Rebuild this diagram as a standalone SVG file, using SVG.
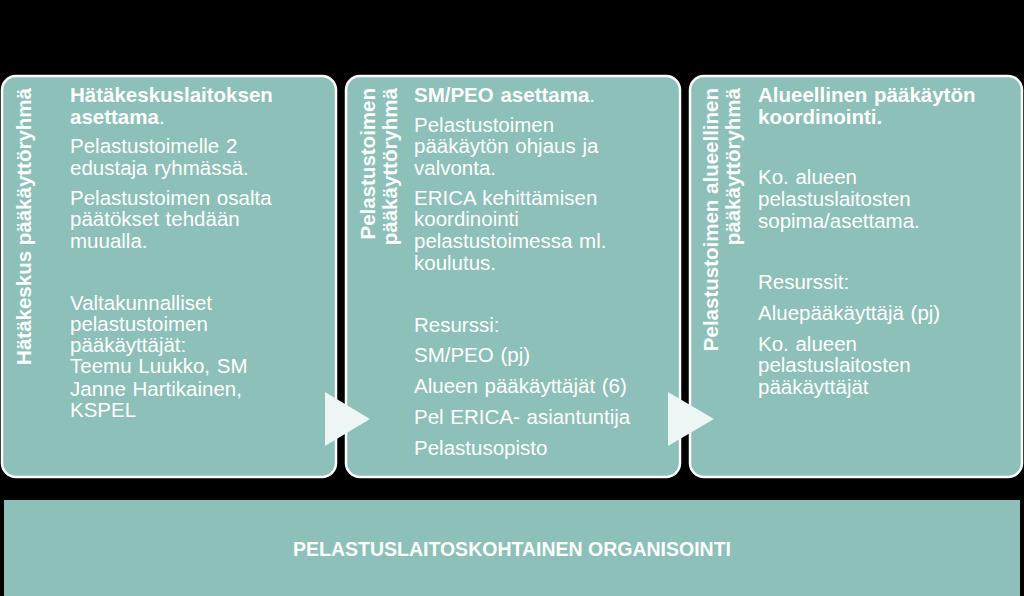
<svg xmlns="http://www.w3.org/2000/svg" width="1024" height="596" viewBox="0 0 1024 596">
<style>
.p{fill:#8dc0b8;stroke:#fff;stroke-width:2.5}
text{font-family:"Liberation Sans",Arial,sans-serif;fill:#fff}
.b{font-size:20.5px;word-spacing:1px}
.h{font-weight:bold}
.t{font-size:20.5px;font-weight:bold;text-anchor:end}
.ar{fill:#eef6f5}
</style>
<rect width="1024" height="596" fill="#000"/>
<g id="panel1">
<rect class="p" x="2" y="76" width="334" height="401" rx="14"/>
<text class="t" transform="translate(31,88) rotate(-90)">Hätäkeskus pääkäyttöryhmä</text>
<text class="b" x="70"><tspan class="h" y="102">Hätäkeskuslaitoksen</tspan><tspan class="h" x="70" y="124">asettama</tspan><tspan>.</tspan>
<tspan x="70" y="153">Pelastustoimelle 2</tspan><tspan x="70" y="175">edustaja ryhmässä.</tspan>
<tspan x="70" y="205">Pelastustoimen osalta</tspan><tspan x="70" y="226">päätökset tehdään</tspan><tspan x="70" y="248">muualla.</tspan>
<tspan x="70" y="310">Valtakunnalliset</tspan><tspan x="70" y="331">pelastustoimen</tspan><tspan x="70" y="352">pääkäyttäjät:</tspan><tspan x="70" y="373">Teemu Luukko, SM</tspan><tspan x="70" y="396">Janne Hartikainen,</tspan><tspan x="70" y="417">KSPEL</tspan></text>
</g>
<g id="panel2">
<rect class="p" x="346" y="76" width="334" height="401" rx="14"/>
<text class="t" transform="translate(375,88) rotate(-90)">Pelastustoimen</text>
<text class="t" transform="translate(397,88) rotate(-90)">pääkäyttöryhmä</text>
<text class="b" x="414"><tspan class="h" y="102">SM/PEO asettama</tspan><tspan>.</tspan>
<tspan x="414" y="132">Pelastustoimen</tspan><tspan x="414" y="153">pääkäytön ohjaus ja</tspan><tspan x="414" y="175">valvonta.</tspan>
<tspan x="414" y="205">ERICA kehittämisen</tspan><tspan x="414" y="226">koordinointi</tspan><tspan x="414" y="248">pelastustoimessa ml.</tspan><tspan x="414" y="270">koulutus.</tspan>
<tspan x="414" y="332">Resurssi:</tspan><tspan x="414" y="362">SM/PEO (pj)</tspan><tspan x="414" y="393">Alueen pääkäyttäjät (6)</tspan><tspan x="414" y="424">Pel ERICA- asiantuntija</tspan><tspan x="414" y="455">Pelastusopisto</tspan></text>
</g>
<g id="panel3">
<rect class="p" x="690" y="76" width="332" height="401" rx="14"/>
<text class="t" transform="translate(718,88) rotate(-90)">Pelastustoimen alueellinen</text>
<text class="t" transform="translate(740,88) rotate(-90)">pääkäyttöryhmä</text>
<text class="b" x="758"><tspan class="h" y="102">Alueellinen pääkäytön</tspan><tspan class="h" x="758" y="124">koordinointi.</tspan>
<tspan x="758" y="184">Ko. alueen</tspan><tspan x="758" y="206">pelastuslaitosten</tspan><tspan x="758" y="228">sopima/asettama.</tspan>
<tspan x="758" y="289">Resurssit:</tspan><tspan x="758" y="320">Aluepääkäyttäjä (pj)</tspan><tspan x="758" y="351">Ko. alueen</tspan><tspan x="758" y="372">pelastuslaitosten</tspan><tspan x="758" y="394">pääkäyttäjät</tspan></text>
</g>
<g id="connectors">
<polygon class="ar" points="325,392 370,419 325,446"/>
<polygon class="ar" points="668,392 714,419 668,446"/>
</g>
<g id="bottom">
<rect x="4" y="500" width="1016" height="96" fill="#8dc0b8"/>
<text x="512" y="556" text-anchor="middle" font-size="19.5" font-weight="bold">PELASTUSLAITOSKOHTAINEN ORGANISOINTI</text>
</g>
</svg>
